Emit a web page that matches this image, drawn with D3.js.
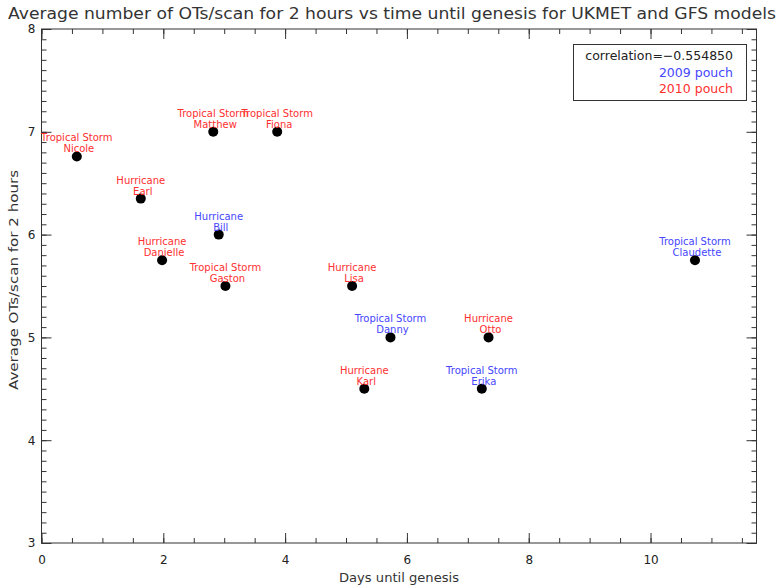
<!DOCTYPE html>
<html>
<head>
<meta charset="utf-8">
<script src="https://cdn.jsdelivr.net/npm/d3@7"></script>
<style>
  html, body { margin: 0; padding: 0; background: #fff; }
  svg { display: block; }
  text { font-family: "DejaVu Sans", sans-serif; }
</style>
</head>
<body>
<svg id="chart" width="783" height="588"></svg>
<script>
// Storm names, days until genesis, average OTs per scan, season
const names = ["Nicole", "Earl", "Matthew", "Fiona", "Bill", "Danielle", "Gaston",
               "Lisa", "Danny", "Otto", "Karl", "Erika", "Claudette"];
const kinds = ["Tropical Storm", "Hurricane", "Tropical Storm", "Tropical Storm", "Hurricane",
               "Hurricane", "Tropical Storm", "Hurricane", "Tropical Storm", "Hurricane",
               "Hurricane", "Tropical Storm", "Tropical Storm"];
const days = [0.58, 1.63, 2.82, 3.87, 2.91, 1.98, 3.02, 5.10, 5.73, 7.34, 5.30, 7.23, 10.73];
const ots = [6.76, 6.35, 7.0, 7.0, 6.0, 5.75, 5.5, 5.5, 5.0, 5.0, 4.5, 4.5, 5.75];
const years = [2010, 2010, 2010, 2010, 2009, 2010, 2010, 2010, 2009, 2010, 2010, 2009, 2009];

const xMajor = [0, 2, 4, 6, 8, 10];
const yMajor = [3, 4, 5, 6, 7, 8];
const legendLines = ["correlation=\u22120.554850", "2009 pouch", "2010 pouch"];

const yearColor = { 2009: "#4646ff", 2010: "#ff3030" };
const axisColor = "#333";

const svg = d3.select("#chart");
const L = 41.5, R = 756.5, T = 29, B = 543;

const x = d3.scaleLinear().domain([0, 11.74]).range([L, R]);
const y = d3.scaleLinear().domain([3, 8]).range([B, T]);

const xMinor = d3.range(0, 11.74, 0.5);
const yMinor = d3.range(3, 8.001, 0.1);

function styleAxis(g) {
  g.select(".domain").remove();
  g.selectAll("line").attr("stroke", axisColor).attr("stroke-width", 1);
  g.selectAll("text").attr("fill", "#222").style("font-size", "12px")
    .style("font-family", "DejaVu Sans, sans-serif");
}

// frame
svg.append("rect").attr("x", L).attr("y", T).attr("width", R - L).attr("height", B - T)
  .attr("fill", "none").attr("stroke", axisColor).attr("stroke-width", 1);

// bottom axis: major + minor, ticks pointing inward
svg.append("g").attr("transform", `translate(0,${B})`)
  .call(d3.axisBottom(x).tickValues(xMinor).tickFormat("").tickSize(-5)).call(styleAxis);
svg.append("g").attr("transform", `translate(0,${B})`)
  .call(d3.axisBottom(x).tickValues(xMajor).tickFormat(d3.format("d")).tickSize(-10).tickPadding(12))
  .call(styleAxis);
// top axis
svg.append("g").attr("transform", `translate(0,${T})`)
  .call(d3.axisTop(x).tickValues(xMinor).tickFormat("").tickSize(-5)).call(styleAxis);
svg.append("g").attr("transform", `translate(0,${T})`)
  .call(d3.axisTop(x).tickValues(xMajor).tickFormat("").tickSize(-10)).call(styleAxis);
// left axis
svg.append("g").attr("transform", `translate(${L},0)`)
  .call(d3.axisLeft(y).tickValues(yMinor).tickFormat("").tickSize(-5)).call(styleAxis);
svg.append("g").attr("transform", `translate(${L},0)`)
  .call(d3.axisLeft(y).tickValues(yMajor).tickFormat(d3.format("d")).tickSize(-10).tickPadding(6))
  .call(styleAxis);
// right axis
svg.append("g").attr("transform", `translate(${R},0)`)
  .call(d3.axisRight(y).tickValues(yMinor).tickFormat("").tickSize(-5)).call(styleAxis);
svg.append("g").attr("transform", `translate(${R},0)`)
  .call(d3.axisRight(y).tickValues(yMajor).tickFormat("").tickSize(-10)).call(styleAxis);

// title and axis labels
svg.append("text").attr("x", 392).attr("y", 19).attr("text-anchor", "middle")
  .attr("fill", "#333").style("font-size", "16px")
  .attr("textLength", 768).attr("lengthAdjust", "spacingAndGlyphs")
  .text("Average number of OTs/scan for 2 hours vs time until genesis for UKMET and GFS models");
svg.append("text").attr("x", (L + R) / 2).attr("y", 582).attr("text-anchor", "middle")
  .attr("fill", "#333").style("font-size", "13px")
  .attr("textLength", 120).attr("lengthAdjust", "spacingAndGlyphs")
  .text("Days until genesis");
svg.append("text").attr("transform", `translate(18,${(T + B) / 2 - 6}) rotate(-90)`)
  .attr("text-anchor", "middle").attr("fill", "#333").style("font-size", "13px")
  .attr("textLength", 220).attr("lengthAdjust", "spacingAndGlyphs")
  .text("Average OTs/scan for 2 hours");

// points
const idx = d3.range(names.length);
svg.append("g").selectAll("circle").data(idx).join("circle")
  .attr("cx", i => x(days[i])).attr("cy", i => y(ots[i])).attr("r", 5).attr("fill", "#000");

// two-line storm labels above each point
const lab = svg.append("g").selectAll("text").data(idx).join("text")
  .attr("text-anchor", "middle").attr("fill", i => yearColor[years[i]])
  .style("font-size", "10px");
lab.append("tspan").attr("x", i => x(days[i])).attr("y", i => y(ots[i]) - 15).text(i => kinds[i]);
lab.append("tspan").attr("x", i => x(days[i]) + 2).attr("y", i => y(ots[i]) - 4).text(i => names[i]);

// legend box
svg.append("rect").attr("x", 573.5).attr("y", 44.5).attr("width", 173).attr("height", 56)
  .attr("fill", "#fff").attr("stroke", axisColor);
const legendColors = ["#222", yearColor[2009], yearColor[2010]];
svg.append("g").selectAll("text").data(legendLines).join("text")
  .attr("x", 733).attr("y", (d, i) => 60 + i * 16.5).attr("text-anchor", "end")
  .attr("fill", (d, i) => legendColors[i]).style("font-size", "12.5px").text(d => d);
</script>
</body>
</html>
